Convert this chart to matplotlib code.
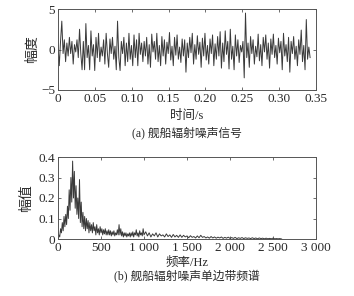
import numpy as np
import matplotlib
matplotlib.use("Agg")
import matplotlib.pyplot as plt

plt.rcParams['font.family'] = ['Liberation Serif', 'Noto Sans CJK SC']
plt.rcParams['axes.unicode_minus'] = True

# ---- data: ship radiated noise time signal ----
signal = [
    0.5, -2.0, 1.0, 3.5, -0.5, 1.2, -1.5, 0.8, -0.8, 1.5,
    -0.5, 1.0, -1.8, 0.6, -0.3, 1.2, -1.0, 2.5, -0.5, -2.5,
    1.0, -2.5, 3.2, -1.0, 0.5, -2.5, 2.3, -0.8, 0.6, -2.6,
    1.5, -1.0, 2.0, -1.5, 0.3, -0.8, 1.2, -1.8, 2.0, -0.5,
    -2.2, 1.3, -0.5, 1.5, -1.2, 0.4, -2.5, 3.5, -1.0, -2.6,
    1.0, -0.5, 1.5, -2.0, 0.8, -1.5, 2.0, -1.2, 0.5, -2.0,
    1.8, -1.0, 1.2, -2.0, 2.0, -0.6, 0.8, -1.5, 1.0, -0.8,
    1.5, -1.8, 0.6, -2.2, 1.9, -0.3, 1.0, -1.2, 2.0, -1.5,
    0.5, -2.0, 1.6, -0.8, 1.2, -1.8, 0.9, -0.5, 2.1, -1.3,
    0.4, -2.0, 1.5, -0.7, 1.8, -1.2, 0.3, -1.6, 1.3, -0.8,
    1.2, -2.8, 0.8, -1.0, 1.5, -0.4, 2.0, -1.8, 0.6, -1.2,
    1.7, -0.6, 0.9, -2.2, 1.4, -0.8, 2.0, -1.3, 0.5, -1.8,
    1.3, -0.5, 1.8, -2.0, 0.7, -1.2, 1.6, -0.8, 2.2, -2.3,
    0.8, -1.5, 2.3, -0.6, 1.0, -2.4, 2.5, -1.2, 0.4, -2.5,
    1.8, -0.8, 1.2, -1.6, 0.5, -0.3, 1.0, -3.5, 4.5, -1.0,
    0.8, -2.2, 1.6, -0.5, 1.2, -1.8, 0.4, -0.9, 1.9, -1.4,
    0.6, -2.0, 1.5, -0.3, 1.8, -1.2, 0.8, -2.3, 1.3, -0.6,
    1.9, -1.0, 0.5, -1.8, 1.4, -0.4, 1.0, -2.5, 2.0, -0.8,
    0.6, -1.5, 1.5, -2.8, 1.0, -0.5, 1.6, -1.2, 0.4, -2.0,
    1.2, -0.6, 2.4, -1.5, 0.5, -2.5, 3.7, -1.2, 0.3, -1.0,
]
t_end = 0.342

# ---- data: single-sided spectrum ----
spec_lo = [  # 0 .. 990 Hz, step 10 Hz
    0.0, 0.02, 0.01, 0.05, 0.03, 0.08, 0.04, 0.11, 0.06, 0.12,
    0.07, 0.16, 0.10, 0.24, 0.14, 0.30, 0.18, 0.38, 0.20, 0.33,
    0.15, 0.26, 0.12, 0.20, 0.10, 0.29, 0.08, 0.18, 0.06, 0.13,
    0.05, 0.11, 0.04, 0.10, 0.05, 0.09, 0.03, 0.08, 0.04, 0.07,
    0.03, 0.08, 0.04, 0.06, 0.02, 0.07, 0.03, 0.05, 0.02, 0.06,
    0.03, 0.05, 0.02, 0.045, 0.025, 0.05, 0.02, 0.04, 0.02, 0.045,
    0.02, 0.04, 0.015, 0.035, 0.02, 0.04, 0.015, 0.03, 0.02, 0.045,
    0.02, 0.07, 0.02, 0.05, 0.015, 0.035, 0.01, 0.03, 0.015, 0.03,
    0.01, 0.025, 0.015, 0.03, 0.01, 0.03, 0.015, 0.035, 0.01, 0.03,
    0.02, 0.045, 0.015, 0.03, 0.01, 0.04, 0.02, 0.03, 0.015, 0.05,
]
spec_hi = [  # 1000 .. 2600 Hz, step 20 Hz
    0.02, 0.035, 0.015, 0.03, 0.01, 0.025, 0.015, 0.03, 0.01, 0.025, 0.015,
    0.02, 0.01, 0.025, 0.012, 0.02, 0.008, 0.022, 0.01, 0.018, 0.008,
    0.02, 0.008, 0.018, 0.01, 0.015, 0.006, 0.016, 0.008, 0.012, 0.005,
    0.015, 0.006, 0.018, 0.008, 0.012, 0.005, 0.01, 0.004, 0.012, 0.005,
    0.01, 0.004, 0.009, 0.005, 0.01, 0.003, 0.008, 0.004, 0.009, 0.003,
    0.007, 0.003, 0.008, 0.002, 0.006, 0.003, 0.007, 0.002, 0.006, 0.003,
    0.005, 0.002, 0.006, 0.002, 0.005, 0.001, 0.005, 0.002, 0.004, 0.001,
    0.004, 0.001, 0.003, 0.001, 0.004, 0.001, 0.002, 0.001, 0.002, 0.0,
]

top_xticks = [0, 0.05, 0.10, 0.15, 0.20, 0.25, 0.30, 0.35]
top_xlabels = ["0", "0.05", "0.10", "0.15", "0.20", "0.25", "0.30", "0.35"]
top_yticks = [-5, 0, 5]
top_ylabels = ["\u22125", "0", "5"]
bot_xticks = [0, 500, 1000, 1500, 2000, 2500, 3000]
bot_xlabels = ["0", "500", "1 000", "1 500", "2 000", "2 500", "3 000"]
bot_yticks = [0, 0.1, 0.2, 0.3, 0.4]
bot_ylabels = ["0", "0.1", "0.2", "0.3", "0.4"]

t = np.linspace(0, t_end, len(signal))
f = np.concatenate([np.arange(len(spec_lo)) * 10.0,
                    1000.0 + np.arange(len(spec_hi)) * 20.0])
spec = np.array(spec_lo + spec_hi)

W, H = 354, 296
fig = plt.figure(figsize=(W / 100, H / 100), dpi=100)
fig.patch.set_facecolor("white")

line_c = "#3a3a3a"
frame_c = "#555555"
text_c = "#2a2a2a"
fs_tick = 9.5
fs_lab = 9
fs_cap = 8.5

def style(ax):
    for s in ax.spines.values():
        s.set_color(frame_c)
        s.set_linewidth(0.7)
    ax.tick_params(direction="in", length=2.5, width=0.6, colors=frame_c,
                   labelcolor=text_c, labelsize=fs_tick, top=True, right=True, pad=2)

ax1 = fig.add_axes([58 / W, 1 - 90 / H, (316 - 58) / W, (90 - 9) / H])
ax1.plot(t, signal, color=line_c, lw=0.7)
ax1.set_xlim(0, 0.35)
ax1.set_ylim(-5, 5)
ax1.set_xticks(top_xticks, top_xlabels)
ax1.set_yticks(top_yticks, top_ylabels)
style(ax1)
fig.text(187 / W, 1 - 116 / H, "时间/s", ha="center", va="center",
         fontsize=fs_lab, color=text_c)
fig.text(33 / W, 1 - 49 / H, "幅度", ha="center", va="center", rotation=90,
         fontsize=10, color=text_c)
fig.text(187 / W, 1 - 133 / H, "(a) 舰船辐射噪声信号", ha="center", va="center",
         fontsize=fs_cap, color=text_c)

ax2 = fig.add_axes([58 / W, 1 - 239 / H, (316 - 58) / W, (239 - 157) / H])
ax2.plot(f, spec, color=line_c, lw=0.7)
ax2.set_xlim(0, 3000)
ax2.set_ylim(0, 0.4)
ax2.set_xticks(bot_xticks, bot_xlabels)
ax2.set_yticks(bot_yticks, bot_ylabels)
style(ax2)
fig.text(187 / W, 1 - 263 / H, "频率/Hz", ha="center", va="center",
         fontsize=fs_lab, color=text_c)
fig.text(27 / W, 1 - 198 / H, "幅值", ha="center", va="center", rotation=90,
         fontsize=10, color=text_c)
fig.text(187 / W, 1 - 277 / H, "(b) 舰船辐射噪声单边带频谱", ha="center", va="center",
         fontsize=fs_cap, color=text_c)

fig.savefig("out.png", dpi=100, facecolor="white")
